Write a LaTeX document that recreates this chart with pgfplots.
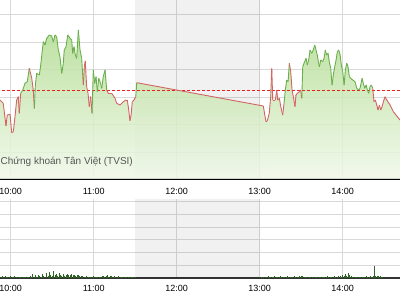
\documentclass[border=0pt]{standalone}
\usepackage{fontspec}
\setmainfont{Liberation Sans}
\usepackage{pgfplots}
\usepackage{pgfplotstable}
\pgfplotsset{compat=1.18}
\definecolor{gridc}{RGB}{217,217,217}
\definecolor{volc}{RGB}{45,100,35}
\definecolor{fillTop}{RGB}{178,220,145}
\definecolor{fillBot}{RGB}{240,248,234}
\definecolor{refc}{RGB}{235,30,30}
\definecolor{wmark}{RGB}{85,85,85}

% time in minutes after 9:00, index level (chart units), c = colour of the following segment (1 green, 0 red)
\pgfplotstableread{
t v c
52.3 79 0
53.5 77.3 0
54.6 75.7 0
56.6 53 0
57.5 64 0
59.5 64.7 0
60.7 46.3 0
61.9 47.3 0
63.1 62.3 0
64.3 79 0
65.5 82.3 0
66.2 65.7 0
67.2 85.7 1
68.7 89 1
70.3 95.7 1
72.0 97.3 1
73.4 110.7 0
75.2 100.7 0
76.3 89 0
77.1 70.7 1
77.8 94 1
78.8 105.7 1
80.7 104 1
81.7 114 1
82.6 125.7 1
83.6 137.3 1
84.8 134 1
86.0 140.7 1
87.9 144 1
89.6 143 1
90.8 137.3 1
92.0 144 1
93.2 142.3 1
94.4 129 1
95.6 122.3 1
96.9 105.7 1
98.0 115.7 1
98.7 129 1
100.0 132.3 1
101.2 144 1
102.9 140.7 1
104.1 139 1
104.8 125.7 1
105.8 132.3 1
106.7 124 1
107.7 120.7 1
108.9 149 1
110.1 129 1
111.3 120.7 1
112.5 94 0
113.2 112.3 0
113.9 118 0
114.9 92.3 0
115.9 85.7 0
116.8 72.3 0
117.8 82.3 0
118.8 65.7 1
119.7 109 1
120.7 95.7 1
121.7 102.3 1
122.6 87.3 1
123.6 100.7 1
124.6 97.3 1
125.8 90.7 1
126.9 102.3 1
128.2 109 1
129.4 89 0
130.6 85.7 0
133.0 85.7 0
135.4 80.7 0
136.6 75.7 0
139.0 74 0
141.4 77.3 0
143.3 79 0
144.3 79 0
145.3 69 0
146.2 58.3 0
147.0 64 0
147.9 77.3 0
149.1 79 0
150.4 82.3 1
151.1 96.3 0
242.6 73 0
244.5 57.3 0
245.5 58.3 0
246.9 65.7 0
247.9 82.3 0
248.7 110.7 0
249.4 79 0
251.3 79 0
252.3 89 0
253.0 79 0
254.2 80.7 0
255.2 72.3 0
256.6 64 0
257.6 75.7 1
258.5 89 1
259.5 99 1
260.5 97.3 1
261.4 115.7 0
262.4 107.3 0
263.4 89 0
264.3 82.3 0
265.5 72.3 0
266.2 84 0
267.2 85.7 0
268.6 87.3 0
269.6 89 0
270.4 80.7 1
271.1 112.3 1
272.0 115.7 1
273.5 120.7 1
274.4 114 1
275.4 119 1
276.4 129 1
277.6 125.7 1
278.7 129 1
279.8 134 1
280.7 129 1
281.6 124 1
282.4 117.3 1
283.1 112.3 1
284.1 119 1
285.5 117.3 1
286.5 120.7 1
287.4 129 1
288.4 124 1
289.4 125.7 1
290.3 117.3 1
291.3 110.7 1
292.3 94 1
293.2 104 1
294.2 112.3 1
295.2 119 1
296.1 127.3 1
297.1 129 1
298.1 124 1
299.0 114 1
300.0 107.3 1
301.0 94 1
301.9 109 1
302.9 115.7 1
303.8 112.3 1
304.8 102.3 1
305.8 100.7 1
307.2 99 1
308.9 97.3 1
310.1 90.7 1
311.6 89 1
312.5 90.7 1
314.0 100.7 1
314.9 95.7 1
315.9 90.7 1
316.9 94 1
317.8 89 1
318.8 85.7 1
319.7 92.3 1
320.7 94 1
321.7 90.7 0
322.6 77.3 0
323.6 79 0
324.6 74 0
325.5 69 0
326.5 74 0
327.5 69 0
328.4 72.3 0
329.4 77.3 0
330.6 82.3 0
331.8 79 0
334.2 74 0
336.6 67.3 0
341.4 59 0
}\price

\pgfplotstableread{
t vol
53 1.5
54 2.5
55 1
56 2
57 1
58 1
59 1.5
60 2.5
61 1
62 1
63 2
64 1
65 1
66 1.5
67 1
68 1
69 1
70 1
71 1.5
72 1
73 1
74 2
75 1
76 4.5
77 1.5
78 3
79 1.5
80 3.5
81 2
82 1
83 4
84 2.5
85 1.5
86 5
87 2
88 6
89 3
90 2
91 7.5
92 3
93 4
94 2
95 5
96 3
97 2.5
98 4
99 2
100 3
101 4
102 3.5
103 3
104 4
105 3.5
106 3
107 2.5
108 3
109 3
110 2
111 2.5
112 2
113 1.5
114 1
115 2
116 1
117 1.5
118 1
119 1
120 2
121 1
122 1.5
123 1
124 1
125 1.5
126 2
127 2.5
128 1
129 2
130 3
131 1.5
132 2
133 2.5
134 1
135 2
136 1.5
137 1
138 2
139 1
140 1
141 1.5
142 1
143 1
144 1
145 0.8
146 1
147 1
148 0.8
149 1
150 0.8
240 1.5
241 1
242 1
243 1.5
244 1
245 1
246 2
247 1
248 1
249 1.5
250 1
251 2.5
252 1
253 1.5
254 1
255 2
256 1
257 1
258 1.5
259 1
260 2.5
261 1
262 1.5
263 1
264 1
265 2
266 1
267 1
268 1.5
269 2
270 2.5
271 2
272 1.5
273 1
274 1
275 1.5
276 1
277 1
278 1.5
279 1
280 1
281 1.5
282 1
283 1.5
284 1
285 1
286 1
287 1.5
288 1
289 2
290 1
291 1
292 1.5
293 1
294 2
295 1.5
296 1
297 2
298 2.5
299 1.5
300 3
301 2.5
302 4
303 2
304 5
305 3
306 2
307 1.5
308 1
309 1.5
310 1
311 1
312 1.5
313 1
314 1
315 1
316 1.5
317 2
318 1
319 1.5
320 2
321 1
322 2
323 12.5
324 2
325 2
326 2.5
327 2
328 1.5
329 1
}\vol

\pgfplotsset{
  panel/.style={
    anchor=south west, width=400bp, scale only axis,
    xmin=52.26, xmax=341.4, enlargelimits=false,
    axis x line*=bottom, axis y line*=left,
    y axis line style={draw=none},
    xtick={60,120,180,240,300},
    xticklabels={10:00,11:00,12:00,13:00,14:00},
    yticklabels={},
    major tick length=0pt,
    xmajorgrids, ymajorgrids,
    grid style={draw=gridc, line width=1bp},
    tick label style={font=\fontsize{9bp}{10bp}\selectfont, text=black},
  },
}

\begin{document}
\begin{tikzpicture}
% price panel
\begin{axis}[panel, at={(0,121bp)}, height=179bp,
  ymin=0, ymax=179,
  ytick={26.5,54,81.5,109,136.5,164},
  x axis line style={draw=black, line width=1.1bp},
  xticklabel style={yshift=-6bp},
  colormap={rg}{rgb255=(210,100,100) rgb255=(105,175,75)},
  point meta min=0, point meta max=1]
\addplot[fill=black, fill opacity=0.055, draw=none] coordinates {(150,179) (240,179)} \closedcycle;
\addplot[draw=none, top color=fillTop, bottom color=fillBot, fill opacity=0.85] table[x=t, y=v] {\price} \closedcycle;
\addplot[draw=refc, dash pattern=on 3bp off 2bp, line width=0.8bp] coordinates {(50,89) (345,89)};
\addplot[mesh, shader=flat corner, point meta=explicit, line width=0.9bp] table[x=t, y=v, meta=c] {\price};
\end{axis}
% volume panel
\begin{axis}[panel, at={(0,22bp)}, height=79bp,
  ymin=0, ymax=79,
  ytick={12.7,25.4,38.1,50.8,63.5,76.2},
  x axis line style={draw=black!80, line width=1.1bp},
  xticklabel style={yshift=-4bp}]
\addplot[fill=black, fill opacity=0.055, draw=none] coordinates {(150,79) (240,79)} \closedcycle;
\addplot[ycomb, draw=volc, line width=0.9bp, mark=none] table[x=t, y=vol] {\vol};
\end{axis}
\node[anchor=base west, inner sep=0pt, text=wmark, font=\fontsize{10bp}{12bp}\selectfont] at (0.5bp,135.8bp) {Chứng khoán Tân Việt (TVSI)};
\pgfresetboundingbox
\useasboundingbox (0,0) rectangle (400bp,300bp);
\end{tikzpicture}
\end{document}
